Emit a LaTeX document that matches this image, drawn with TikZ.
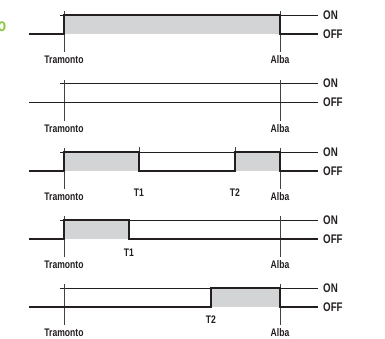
\documentclass[tikz,border=0pt]{standalone}
\usepackage{fontspec}
\setmainfont{Liberation Sans}
\newfontfamily\narrowfont[FakeStretch=0.78]{Liberation Sans}
\usetikzlibrary{positioning}
\definecolor{fillgray}{HTML}{D3D4D6}
\definecolor{inkgray}{HTML}{231F20}
\definecolor{titlegreen}{HTML}{8DC63F}
\tikzstyle{every picture}=[x=1pt,y=-1pt]
\tikzstyle{level}=[draw=inkgray, line width=0.7pt]
\tikzstyle{signal}=[draw=inkgray, line width=1.4pt, line join=miter]
\tikzstyle{tick}=[draw=inkgray!85, line width=0.5pt]
\tikzstyle{state}=[inner xsep=5pt, inner ysep=0pt, anchor=west, text=inkgray,
                   font=\narrowfont\bfseries\fontsize{12.5}{12.5}\selectfont]
\tikzstyle{timelabel}=[inner sep=0pt, anchor=base, text=inkgray,
                       font=\narrowfont\bfseries\fontsize{11}{11}\selectfont]
\tikzstyle{title}=[inner sep=0pt, anchor=base east, text=titlegreen,
                   font=\narrowfont\bfseries\fontsize{18}{18}\selectfont]

\begin{document}
\begin{tikzpicture}
  \useasboundingbox (0,0) rectangle (385,338);
  \node[title] (heading) at (6.5,31.7) {o};
  % periodi accesi
  \fill[fillgray] (64,15) rectangle (280,34);
  \fill[fillgray] (64,152) rectangle (139,171);
  \fill[fillgray] (235,152) rectangle (280,171);
  \fill[fillgray] (64,220) rectangle (129,239);
  \fill[fillgray] (211,288) rectangle (280,307);
  % livelli, riferimenti e scritte
  \foreach \n/\y in {1/15,2/83.5,3/152,4/220,5/288}{
    \node[state] (on\n) at (318,\y) {ON};
    \node[state] (off\n) at (318,\y+19) {OFF};
    \node[timelabel] (tramonto\n) at (64,\y+48.5) {Tramonto};
    \node[timelabel] (alba\n) at (280,\y+48.5) {Alba};
    \draw[level] (60,\y) -- (on\n.west);
    \draw[tick] (64,\y-4) -- (64,\y+37);
    \draw[tick] (280,\y-4) -- (280,\y+37);
  }
  \node[timelabel] (t1a) at (139,196.7) {T1};
  \node[timelabel] (t2a) at (235,196.7) {T2};
  \node[timelabel] (t1b) at (129,256) {T1};
  \node[timelabel] (t2b) at (211,323) {T2};
  \draw[tick] (139,147) -- (139,171);
  \draw[tick] (235,147) -- (235,171);
  % uscita
  \draw[signal] (29,34) -| (64,15) -| (280,34) -- (off1.west);
  \draw[signal] (29,102.5) -- (off2.west);
  \draw[signal] (29,171) -| (64,152) -| (139,171) -| (235,152) -| (280,171) -- (off3.west);
  \draw[signal] (29,239) -| (64,220) -| (129,239) -- (off4.west);
  \draw[signal] (29,307) -| (211,288) -| (280,307) -- (off5.west);
\end{tikzpicture}
\end{document}
